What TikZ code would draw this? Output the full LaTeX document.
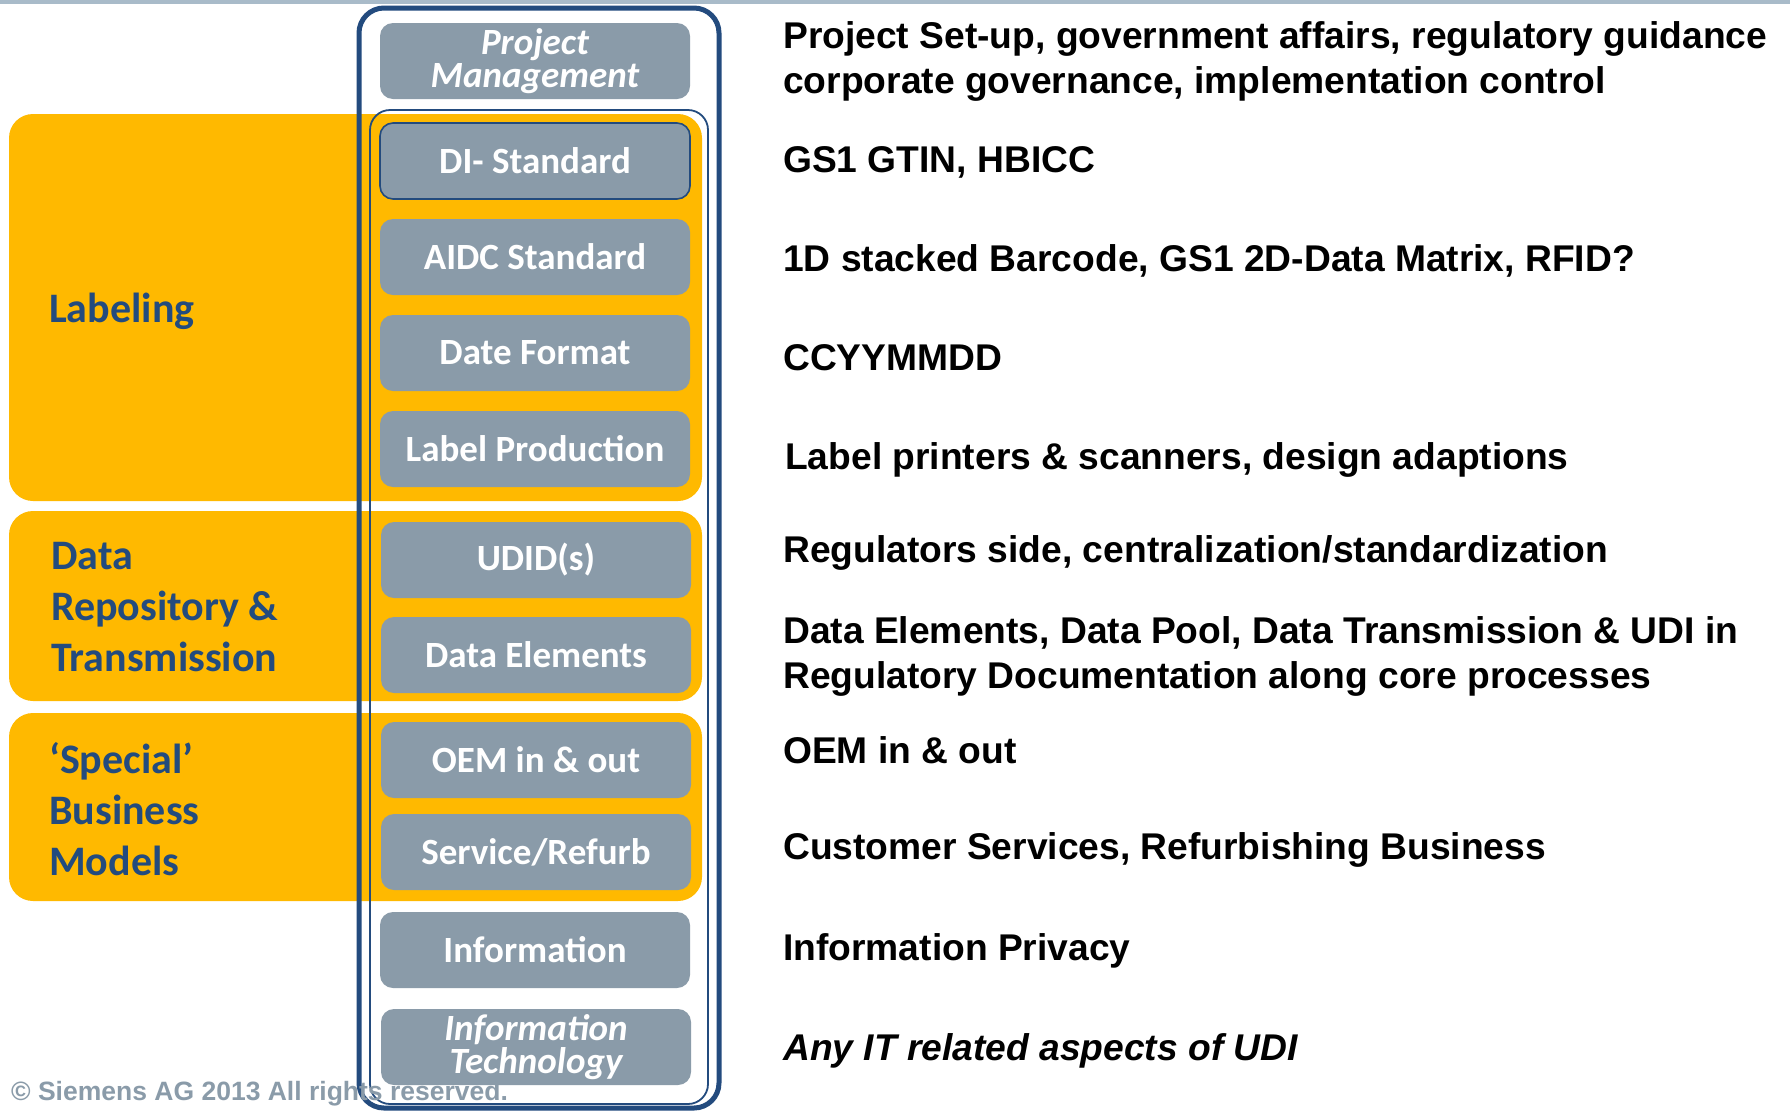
\documentclass[tikz,border=0pt]{standalone}
\usepackage{fontspec}
\setmainfont{Carlito}
\newfontfamily\arialfont{Liberation Sans}

\definecolor{udiblue}{HTML}{234B7E}
\definecolor{udigray}{HTML}{8A9BA9}
\definecolor{udiorange}{HTML}{FFB900}
\definecolor{topline}{HTML}{A9BBC9}

\tikzset{
  band/.style={fill=udiorange, rounded corners=24pt},
  topic/.style={fill=udigray, rounded corners=13pt, minimum width=310pt,
    minimum height=76pt, inner sep=0pt, text=white,
    font=\fontsize{37}{40}\selectfont\bfseries},
  topicit/.style={topic, align=center,
    font=\fontsize{37}{33}\selectfont\bfseries\itshape},
  area/.style={anchor=west, align=left, text=udiblue, inner sep=0pt,
    font=\fontsize{42}{51}\selectfont\bfseries},
  note/.style={anchor=west, align=left, inner sep=0pt,
    font=\arialfont\fontsize{37.2}{45}\selectfont\bfseries}
}

\begin{document}
\begin{tikzpicture}[x=1pt, y=-1pt]
    \useasboundingbox (0,0) rectangle (1790,1112);
    \fill[white] (0,0) rectangle (1790,1112);
    \fill[topline] (0,0) rectangle (1790,4);

    % orange areas behind the column
    \fill[band] (9,114) rectangle (702,501);
    \fill[band] (9,511) rectangle (702,701);
    \fill[band] (9,713) rectangle (702,901);

    % inner frame
    \draw[udiblue, line width=1.8pt, rounded corners=20pt] (370,110) rectangle (708,1104);

    % the column of topics
    \node[topicit] (pm) at (535,61) {Project\\Management};
    \node[topic, draw=udiblue, line width=1.6pt] (di) at (535,161) {DI- Standard};
    \node[topic] (aidc) at (535,257) {AIDC Standard};
    \node[topic] (date) at (535,353) {Date Format};
    \node[topic] (lp) at (535,449) {Label Production};
    \node[topic] (udid) at (536,560) {UDID(s)};
    \node[topic] (de) at (536,655) {Data Elements};
    \node[topic] (oem) at (536,760) {OEM in \& out};
    \node[topic] (sr) at (536,852) {Service/Refurb};
    \node[topic] (info) at (535,950) {Information};
    \node[topicit] (it) at (536,1047) {Information\\Technology};

    % outer frame
    \draw[udiblue, line width=5pt, rounded corners=25pt] (359,8) rectangle (719,1108);

    % area labels
    \node[area] (labeling) at (49,311) {Labeling};
    \node[area] (datarep) at (51,607) {Data\\Repository \&\\Transmission};
    \node[area] (special) at (49,809) {‘Special’\\Business\\Models};

    % descriptions
    \node[note] (dpm) at (783,61) {Project Set-up, government affairs, regulatory guidance\\corporate governance, implementation control};
    \node[note] (ddi) at (783,162) {GS1 GTIN, HBICC};
    \node[note] (daidc) at (783,261) {1D stacked Barcode, GS1 2D-Data Matrix, RFID?};
    \node[note] (ddate) at (783,358) {CCYYMMDD};
    \node[note] (dlp) at (785,460) {Label printers \& scanners, design adaptions};
    \node[note] (dudid) at (783,553) {Regulators side, centralization/standardization};
    \node[note] (dde) at (783,656) {Data Elements, Data Pool, Data Transmission \& UDI in\\Regulatory Documentation along core processes};
    \node[note] (doem) at (783,750) {OEM in \& out};
    \node[note] (dsr) at (783,850) {Customer Services, Refurbishing Business};
    \node[note] (dinfo) at (783,951) {Information Privacy};
    \node[note, font=\arialfont\fontsize{37.2}{45}\selectfont\bfseries\itshape] (dit) at (783,1051) {Any IT related aspects of UDI};

    \node[anchor=west, inner sep=0pt, text=udigray,
      font=\arialfont\fontsize{26.5}{30}\selectfont\bfseries] (copy) at (11,1094) {© Siemens AG 2013 All rights reserved.};
\end{tikzpicture}
\end{document}
